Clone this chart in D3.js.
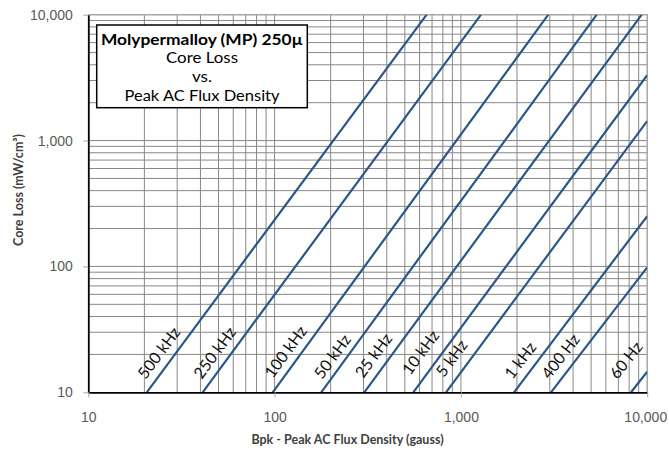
<!DOCTYPE html>
<html>
<head>
<meta charset="utf-8">
<script src="https://cdn.jsdelivr.net/npm/d3@7"></script>
<style>
  html, body { margin: 0; padding: 0; background: #fff; }
  svg { display: block; }
</style>
</head>
<body>
<svg id="chart" width="669" height="452"></svg>
<script>
// ---- data ----
const xTickValues = [10, 100, 1000, 10000];
const yTickValues = [10, 100, 1000, 10000];
const seriesNames = ["500 kHz", "250 kHz", "100 kHz", "50 kHz", "25 kHz", "10 kHz", "5 kHz", "1 kHz", "400 Hz", "60 Hz"];
// start of each line: Bpk (gauss) where core loss = 10 mW/cm³
const startFlux = [20.6, 41.1, 97.7, 178, 303, 555, 832, 1928, 3045, 8185];
const startLoss = [10, 10, 10, 10, 10, 10, 10, 10, 10, 10];
// end of each line (at top or right edge of the chart)
const endFlux = [655, 1282, 2945, 5356, 9344, 10000, 10000, 10000, 10000, 10000];
const endLoss = [10000, 10000, 10000, 10000, 10000, 3311, 1429, 251, 98.4, 14.6];

const titleLines = ["Molypermalloy (MP) 250µ", "Core Loss", "vs.", "Peak AC Flux Density"];
const xTitle = "Bpk - Peak AC Flux Density (gauss)";
const yTitle = "Core Loss (mW/cm³)";

// ---- layout ----
const plot = { left: 88.3, right: 647.2, top: 14.7, bottom: 392.3 };
const labelShift = [[-1, 380], [-1, 380], [0, 379], [1, 380], [-1, 379], [-3, 376], [-2, 378], [-1.5, 380], [-1.5, 380], [-13.5, 380]];
const titleWidths = [202, 72, 20, 155];
const lineColor = "#2b5788";
const labelFont = "Lato, 'Open Sans', sans-serif";

const svg = d3.select("#chart");

const x = d3.scaleLog().domain([10, 10000]).range([plot.left, plot.right]);
const y = d3.scaleLog().domain([10, 10000]).range([plot.bottom, plot.top]);

// grid values 2..9 × 10^k and majors
const gridVals = [];
for (let k = 1; k <= 4; k++) {
  for (let m = 1; m <= 9; m++) {
    const v = m * Math.pow(10, k);
    if (v > 10 && v < 10000) gridVals.push(v);
  }
}

const grid = svg.append("g");
grid.selectAll("line.v").data(gridVals).join("line")
  .attr("x1", d => x(d)).attr("x2", d => x(d))
  .attr("y1", plot.top).attr("y2", plot.bottom)
  .attr("stroke", "#878787").attr("stroke-width", 1);
grid.selectAll("line.h").data(gridVals).join("line")
  .attr("y1", d => y(d)).attr("y2", d => y(d))
  .attr("x1", plot.left).attr("x2", plot.right)
  .attr("stroke", "#878787").attr("stroke-width", 1);

// plot border (top & right)
svg.append("path")
  .attr("d", `M${plot.left},${plot.top}H${plot.right}V${plot.bottom}`)
  .attr("fill", "none").attr("stroke", "#a6a6a6").attr("stroke-width", 1.5);

// lines
const clipId = "plotclip";
svg.append("clipPath").attr("id", clipId).append("rect")
  .attr("x", plot.left).attr("y", plot.top)
  .attr("width", plot.right - plot.left).attr("height", plot.bottom - plot.top);

const lineGen = d3.line().x(d => x(d[0])).y(d => y(d[1]));
const series = seriesNames.map((name, i) => ({
  name,
  pts: [[startFlux[i], startLoss[i]], [endFlux[i], endLoss[i]]],
  shift: labelShift[i]
}));

svg.append("g").attr("clip-path", `url(#${clipId})`)
  .selectAll("path").data(series).join("path")
  .attr("d", d => lineGen(d.pts))
  .attr("fill", "none").attr("stroke", lineColor).attr("stroke-width", 2.2);

// line labels
svg.append("g").selectAll("text").data(series).join("text")
  .attr("transform", d => {
    const x0 = x(d.pts[0][0]), y0 = y(d.pts[0][1]);
    const x1 = x(d.pts[1][0]), y1 = y(d.pts[1][1]);
    const ang = Math.atan2(y1 - y0, x1 - x0) * 180 / Math.PI;
    return `translate(${x0 + d.shift[0]},${d.shift[1]}) rotate(${ang})`;
  })
  .attr("font-family", labelFont).attr("font-size", 16)
  .attr("fill", "#111")
  .text(d => d.name);

// axes
const fmt = d3.format(",");
const yAxis = svg.append("g").attr("transform", `translate(${plot.left},0)`)
  .call(d3.axisLeft(y).tickValues(yTickValues).tickFormat(fmt).tickSizeInner(5).tickSizeOuter(0).tickPadding(10.5));
const xAxis = svg.append("g").attr("transform", `translate(0,${plot.bottom})`)
  .call(d3.axisBottom(x).tickValues(xTickValues).tickFormat(fmt).tickSizeInner(5).tickSizeOuter(0).tickPadding(14.5));

[xAxis, yAxis].forEach(ax => {
  ax.select(".domain").attr("stroke", "#000").attr("stroke-width", 1.8);
  ax.selectAll(".tick line").attr("stroke", "#a6a6a6");
  ax.selectAll(".tick text").attr("font-family", "'Liberation Sans', Arial, sans-serif")
    .attr("font-size", 14).attr("fill", "#595959");
});
// keep the 10,000 label inside the picture
xAxis.selectAll(".tick text").filter(d => d === 10000).attr("text-anchor", "end").attr("x", 19.5);

// axis titles
svg.append("text")
  .attr("x", 347.5).attr("y", 444)
  .attr("text-anchor", "middle")
  .attr("font-family", labelFont).attr("font-weight", "bold").attr("font-size", 12.5)
  .attr("fill", "#404040").text(xTitle);
svg.append("text")
  .attr("transform", "translate(23,190) rotate(-90)")
  .attr("text-anchor", "middle")
  .attr("font-family", labelFont).attr("font-weight", "bold").attr("font-size", 12.5)
  .attr("fill", "#404040").text(yTitle);

// title box
const box = svg.append("g");
box.append("rect").attr("x", 96.7).attr("y", 25).attr("width", 210.6).attr("height", 82.7)
  .attr("fill", "#fff").attr("stroke", "#000").attr("stroke-width", 1.5);
const baselines = [44.5, 63.2, 81.9, 100.6];
box.selectAll("text").data(titleLines).join("text")
  .attr("x", 202).attr("y", (d, i) => baselines[i])
  .attr("text-anchor", "middle")
  .attr("font-family", labelFont)
  .attr("font-weight", (d, i) => i === 0 ? "bold" : "normal")
  .attr("font-size", 15.5)
  .attr("textLength", (d, i) => titleWidths[i])
  .attr("lengthAdjust", "spacingAndGlyphs")
  .attr("fill", "#000")
  .text(d => d);
</script>
</body>
</html>
